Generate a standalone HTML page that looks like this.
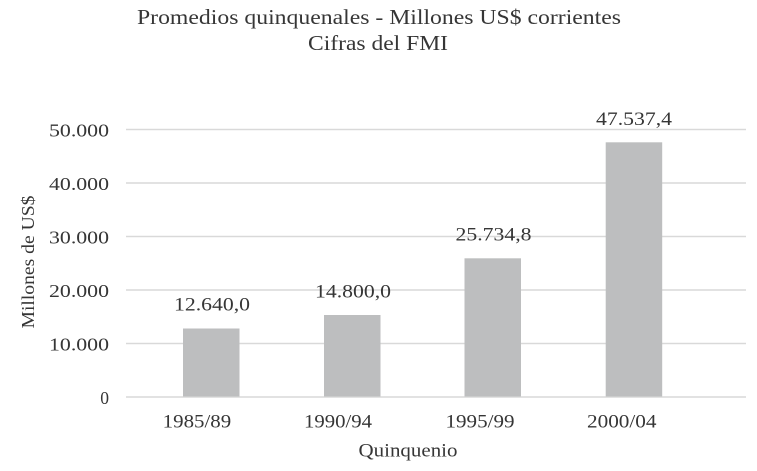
<!DOCTYPE html>
<html>
<head>
<meta charset="utf-8">
<style>
html,body{margin:0;padding:0;background:#fff;}
svg{display:block;}
text{font-family:"Liberation Serif",serif;fill:#363636;}
</style>
</head>
<body>
<svg width="757" height="471" viewBox="0 0 757 471" xmlns="http://www.w3.org/2000/svg">
<rect width="757" height="471" fill="#fff"/>
<!-- title -->
<text x="137" y="24" font-size="21" textLength="484" lengthAdjust="spacingAndGlyphs" fill="#3a3840">Promedios quinquenales - Millones US$ corrientes</text>
<text x="378" y="50" font-size="21" text-anchor="middle" textLength="140" lengthAdjust="spacingAndGlyphs" fill="#3a3840">Cifras del FMI</text>
<!-- gridlines -->
<g stroke="#d9d9d9" stroke-width="1.5">
<line x1="126" y1="129.5" x2="746" y2="129.5"/>
<line x1="126" y1="183" x2="746" y2="183"/>
<line x1="126" y1="236.5" x2="746" y2="236.5"/>
<line x1="126" y1="290" x2="746" y2="290"/>
<line x1="126" y1="343.5" x2="746" y2="343.5"/>
<line x1="126" y1="397" x2="746" y2="397"/>
</g>
<!-- y ticks -->
<g font-size="17.5" text-anchor="end">
<text x="109" y="136.7" textLength="60" lengthAdjust="spacingAndGlyphs">50.000</text>
<text x="109" y="190.2" textLength="60" lengthAdjust="spacingAndGlyphs">40.000</text>
<text x="109" y="243.7" textLength="60" lengthAdjust="spacingAndGlyphs">30.000</text>
<text x="109" y="297.2" textLength="60" lengthAdjust="spacingAndGlyphs">20.000</text>
<text x="109" y="350.7" textLength="60" lengthAdjust="spacingAndGlyphs">10.000</text>
<text x="109" y="404.2">0</text>
</g>
<!-- y axis label -->
<text transform="translate(34,262) rotate(-90)" font-size="17.5" text-anchor="middle" textLength="133" lengthAdjust="spacingAndGlyphs">Millones de US$</text>
<!-- bars -->
<g fill="#bdbebf">
<rect x="183" y="328.5" width="56.5" height="68"/>
<rect x="324" y="315" width="56.5" height="81.5"/>
<rect x="464.5" y="258.3" width="56.5" height="138.2"/>
<rect x="605.7" y="142.3" width="56.5" height="254.2"/>
</g>
<!-- data labels -->
<g font-size="19">
<text x="174" y="310.7" textLength="76" lengthAdjust="spacingAndGlyphs">12.640,0</text>
<text x="315" y="297.3" textLength="76" lengthAdjust="spacingAndGlyphs">14.800,0</text>
<text x="455.5" y="240.7" textLength="76" lengthAdjust="spacingAndGlyphs">25.734,8</text>
<text x="596" y="125" textLength="76" lengthAdjust="spacingAndGlyphs">47.537,4</text>
</g>
<!-- x labels -->
<g font-size="18.5">
<text x="162.7" y="427.3" textLength="68.5" lengthAdjust="spacingAndGlyphs">1985/89</text>
<text x="304" y="427.3" textLength="68" lengthAdjust="spacingAndGlyphs">1990/94</text>
<text x="445.5" y="427.3" textLength="69" lengthAdjust="spacingAndGlyphs">1995/99</text>
<text x="587" y="427.3" textLength="69.5" lengthAdjust="spacingAndGlyphs">2000/04</text>
</g>
<text x="358.5" y="456.7" font-size="18.5" textLength="99" lengthAdjust="spacingAndGlyphs">Quinquenio</text>
</svg>
</body>
</html>
